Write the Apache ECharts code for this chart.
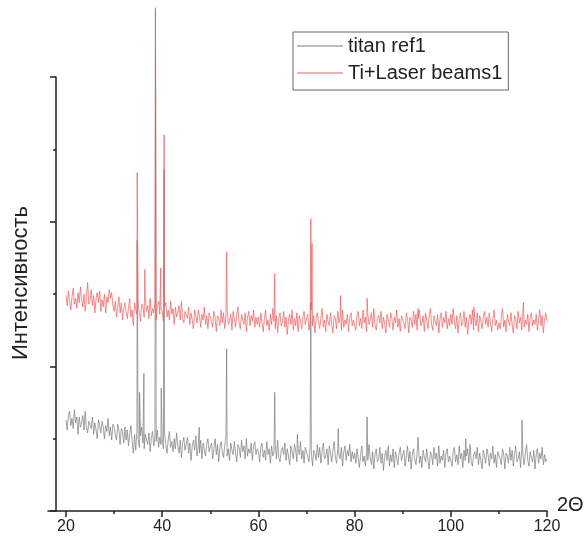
<!DOCTYPE html>
<html>
<head>
<meta charset="utf-8">
<script src="https://cdn.jsdelivr.net/npm/echarts@6/dist/echarts.min.js"></script>
<style>
html,body{margin:0;padding:0;background:#fff;}
#chart{width:587px;height:544px;}
</style>
</head>
<body>
<div id="chart"></div>
<script>
// sampling grid of the scans (degrees 2Θ)
const angleStart = 20;
const angleStep = 0.25;

// Ti + laser beams scan, background (one value per 0.25°, 20..120)
const redBase = [
  149,142,152,145,139,148,154,143,147,140,151,144,155,146,141,150,138,148,158,143,145,153,142,149,137,147,151,144,152,138,146,141,150,137,148,144,153,147,151,142,
  138,145,134,141,148,137,144,132,140,144,137,133,141,147,134,139,128,144,139,136,145,137,131,143,141,134,146,138,142,133,147,135,140,137,144,132,142,145,136,140,
  138,131,141,144,134,139,132,145,136,140,129,141,134,137,142,132,145,133,130,138,138,133,141,129,137,132,126,139,135,130,139,135,127,136,132,141,129,135,126,137,
  136,131,127,138,134,124,135,133,128,139,130,137,126,134,140,129,131,136,125,138,133,127,135,141,130,126,136,132,129,137,124,134,138,128,135,131,139,127,134,129,
  134,127,137,130,124,133,139,128,132,125,136,129,140,131,126,135,123,133,137,128,130,138,127,134,122,132,136,129,139,125,133,128,137,124,135,131,126,134,138,129,
  129,136,125,132,139,128,135,123,133,137,130,126,134,140,127,132,124,136,131,128,137,129,123,135,133,126,138,130,134,125,139,127,132,129,136,124,134,137,128,132,
  132,125,135,138,128,133,126,139,130,134,124,136,129,132,137,127,140,128,125,133,135,130,138,126,134,129,123,136,132,127,137,133,125,134,130,139,127,133,124,135,
  135,130,126,137,133,123,134,132,127,138,129,136,125,133,139,128,130,135,124,137,132,126,134,140,129,125,135,131,128,136,123,133,137,127,134,130,138,126,133,128,
  136,129,140,131,126,135,123,133,137,128,130,138,127,134,122,132,136,129,139,125,133,128,137,124,135,131,126,134,138,129,134,127,137,130,124,133,139,128,132,125,
  130,126,134,140,127,132,124,136,131,128,137,129,123,135,133,126,138,130,134,125,139,127,132,129,136,124,134,137,128,132,129,136,125,132,139,128,135,123,133,137,
  131
];
// titan ref scan, background
const grayBase = [
  63,56,66,69,59,64,57,70,61,65,53,65,58,61,66,56,69,57,54,62,62,57,65,53,61,56,50,63,59,54,62,58,50,59,55,64,52,58,49,60,
  58,53,49,60,56,46,57,55,47,58,49,56,45,53,59,48,40,53,42,55,50,44,52,58,47,43,53,49,46,54,41,51,55,45,52,48,56,44,51,46,
  50,43,53,46,40,49,55,44,48,41,50,43,54,45,40,49,37,47,51,42,43,51,40,47,35,45,49,42,52,38,45,40,49,36,47,43,38,46,50,41,
  40,47,36,43,50,39,46,34,44,48,41,37,45,51,38,43,35,47,42,39,48,40,34,46,44,37,49,41,45,36,50,38,43,40,47,35,45,48,39,43,
  41,34,44,47,37,42,35,48,39,43,33,45,38,41,46,36,49,37,34,42,44,39,47,35,43,38,32,45,41,36,46,42,34,43,39,48,36,42,33,44,
  43,38,34,45,41,31,42,40,35,46,37,44,33,41,47,36,38,43,32,45,40,34,42,48,37,33,43,39,36,44,31,41,45,35,42,38,46,34,41,36,
  40,33,43,36,30,39,45,34,38,31,42,35,46,37,32,41,29,39,43,34,36,44,33,40,28,38,42,35,45,31,39,34,43,30,41,37,32,40,44,35,
  35,42,31,38,45,34,41,29,39,43,36,32,40,46,33,38,30,42,37,34,43,35,29,41,39,32,44,36,40,31,45,33,38,35,42,30,40,43,34,38,
  38,31,41,44,34,39,32,45,36,40,30,42,35,38,43,33,46,34,31,39,41,36,44,32,40,35,29,42,38,33,43,39,31,40,36,45,33,39,30,41,
  41,36,32,43,39,29,40,38,33,44,35,42,31,39,45,34,36,41,30,43,38,32,40,46,35,31,41,37,34,42,29,39,43,33,40,36,44,32,39,34,
  36
];
// diffraction peaks [2Θ, intensity]
const redPeaks = [
  [34.8,234],[36.4,167],[38.6,348],[39.7,168],[40.4,260],[53.4,179],[63.4,164],
  [70.9,202],[71.15,185],[77.1,149],[82.6,147],[93.2,140],[104.8,141],[115.1,144]
];
const grayPeaks = [
  [34.8,187],[35.3,82],[36.2,95],[38.6,346],[39.8,85],[40.4,236],[47.7,58],[53.4,112],
  [63.4,82],[68.1,53],[70.9,144],[76.6,57],[82.6,65],[93.2,51],[103.1,50],[114.8,63]
];
const xTickLabels = [20,40,60,80,100,120];
const xMinorTicks = [30,50,70,90,110];
const seriesNames = ['titan ref1','Ti+Laser beams1'];

function build(base, peaks){
  const pts = base.map((v,i)=>[angleStart + i*angleStep, v]);
  return pts.concat(peaks).sort((a,b)=>a[0]-b[0]);
}

const FONT = '"Liberation Sans", Arial, sans-serif';
const AX = '#222';

const chart = echarts.init(document.getElementById('chart'), null, {renderer:'canvas'});
chart.setOption({
  animation:false,
  backgroundColor:'#fff',
  textStyle:{fontFamily:FONT},
  grid:{left:48, right:40, top:77, bottom:33, containLabel:false, outerBoundsMode:'none'},
  legend:{
    orient:'vertical', left:293, top:32,
    padding:[4,6,7,4], itemGap:7,
    itemWidth:46, itemHeight:1, icon:'rect',
    borderColor:'#666', borderWidth:1,
    textStyle:{fontFamily:FONT, fontSize:20, color:'#222', lineHeight:20},
    data:seriesNames
  },
  xAxis:[{
    type:'value', min:16.26, max:120,
    name:'2Θ', nameLocation:'end', nameGap:10, nameMoveOverlap:false,
    nameTextStyle:{fontFamily:FONT, fontSize:20, color:'#222', align:'left', verticalAlign:'bottom', lineHeight:12},
    axisLine:{show:true, onZero:false, lineStyle:{color:AX, width:1.5}},
    axisTick:{show:true, inside:false, length:6, lineStyle:{color:AX, width:1.5}, customValues:xTickLabels},
    axisLabel:{show:true, fontFamily:FONT, fontSize:16, color:'#222', margin:8, customValues:xTickLabels},
    splitLine:{show:false}
  },{
    type:'value', min:16.26, max:120, position:'bottom',
    axisLine:{show:false},
    axisTick:{show:true, inside:false, length:3, lineStyle:{color:AX, width:1.5}, customValues:xMinorTicks},
    axisLabel:{show:false},
    splitLine:{show:false}
  }],
  yAxis:{
    type:'value', min:0, max:300, interval:100, offset:-8,
    name:'Интенсивность', nameLocation:'middle', nameGap:24, nameRotate:90,
    nameTextStyle:{fontFamily:FONT, fontSize:22, color:'#222', padding:[0,0,0,22]},
    axisLine:{show:true, onZero:false, lineStyle:{color:AX, width:1.5}},
    axisTick:{show:true, inside:false, length:6, lineStyle:{color:AX, width:1.5}},
    minorTick:{show:true, splitNumber:2, length:3, lineStyle:{color:AX, width:1.5}},
    axisLabel:{show:false},
    splitLine:{show:false}
  },
  series:[{
    name:seriesNames[0], type:'line', xAxisIndex:0, data:build(grayBase, grayPeaks),
    showSymbol:false, symbol:'none', clip:false,
    color:'#7a7a7a', lineStyle:{width:0.7, color:'#7a7a7a'}
  },{
    name:seriesNames[1], type:'line', xAxisIndex:0, data:build(redBase, redPeaks),
    showSymbol:false, symbol:'none', clip:false,
    color:'#f25a5a', lineStyle:{width:0.7, color:'#f25a5a'}
  }]
});
</script>
</body>
</html>
